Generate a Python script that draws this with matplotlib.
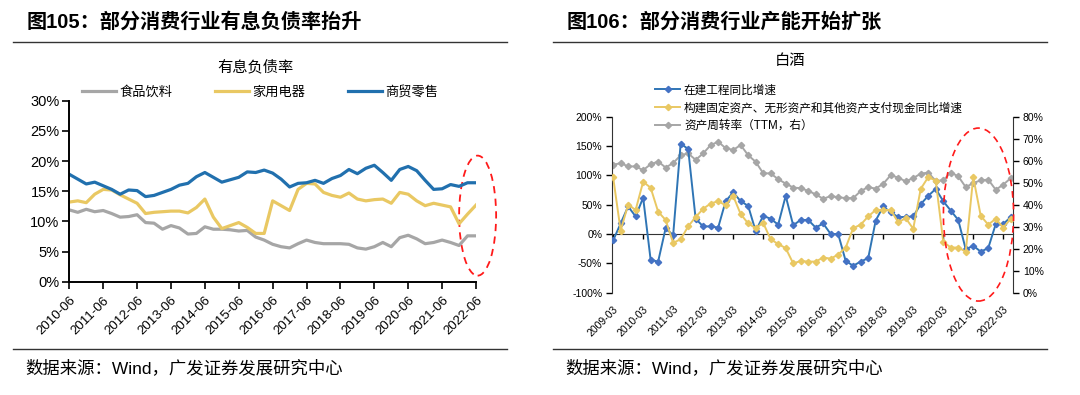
import numpy as np
import matplotlib
matplotlib.use("Agg")
import matplotlib.pyplot as plt
from matplotlib.lines import Line2D
from matplotlib.patches import Ellipse
from matplotlib.ticker import FuncFormatter, MultipleLocator

plt.rcParams['font.family'] = ['Liberation Sans', 'Noto Sans CJK SC']
plt.rcParams['axes.unicode_minus'] = False

# ---- left chart: 有息负债率 (quarterly, 2010-06 .. 2022-06) ----
debt_ticks = ['2010-06', '2011-06', '2012-06', '2013-06', '2014-06', '2015-06', '2016-06',
              '2017-06', '2018-06', '2019-06', '2020-06', '2021-06', '2022-06']
food = [11.9, 11.5, 12.0, 11.6, 11.8, 11.3, 10.7, 10.8, 11.1, 9.8, 9.7, 8.7, 9.3, 8.9, 7.9, 8.0,
        9.1, 8.7, 8.7, 8.6, 8.4, 8.5, 7.4, 6.9, 6.2, 5.8, 5.6, 6.3, 6.9, 6.5, 6.3, 6.3,
        6.3, 6.2, 5.6, 5.4, 5.8, 6.5, 5.8, 7.3, 7.7, 7.1, 6.3, 6.5, 6.9, 6.5, 6.0, 7.6, 7.6]
appliance = [13.2, 13.4, 13.1, 14.5, 15.3, 15.2, 14.4, 13.7, 13.0, 11.3, 11.5, 11.6, 11.7, 11.7, 11.4, 12.3,
             13.7, 10.7, 8.8, 9.3, 9.8, 9.0, 8.0, 8.0, 13.4, 12.6, 11.8, 15.3, 16.3, 16.2, 14.8, 14.3,
             14.0, 14.7, 13.7, 13.4, 13.6, 13.7, 13.0, 14.8, 14.5, 13.4, 12.6, 13.0, 12.7, 12.4, 9.6, 11.2, 12.7]
retail = [17.8, 17.0, 16.2, 16.5, 15.9, 15.3, 14.5, 15.2, 15.1, 14.1, 14.3, 14.8, 15.3, 16.0, 16.3, 17.4,
          18.1, 17.3, 16.5, 16.9, 17.3, 18.2, 18.1, 18.5, 18.0, 17.0, 15.7, 16.3, 16.4, 16.8, 16.3, 17.1,
          17.6, 18.6, 17.9, 18.8, 19.3, 18.1, 16.8, 18.6, 19.1, 18.4, 16.8, 15.3, 15.4, 16.1, 15.8, 16.4, 16.4]

# ---- right chart: 白酒 (quarterly, 2009-03 .. 2022-06) ----
liquor_ticks = ['2009-03', '2010-03', '2011-03', '2012-03', '2013-03', '2014-03', '2015-03',
                '2016-03', '2017-03', '2018-03', '2019-03', '2020-03', '2021-03', '2022-03']
cip_growth = [-11, 18, 47, 30, 62, -44, -47, 10, -2, 154, 145, 26, 13, 13, 11, 56, 71, 56, 48, 5,
              31, 26, 16, 65, 15, 24, 24, 11, 18, 0, 0, -46, -54, -47, -41, 23, 47, 37, 29, 29,
              30, 51, 65, 77, 56, 40, 24, -26, -20, -30, -24, 17, 17, 29]
capex_growth = [97, 6, 50, 41, 89, 79, 38, 24, -15, -9, 13, 29, 43, 52, 56, 49, 65, 34, 18, 10,
                19, -9, -17, -24, -50, -46, -47, -47, -40, -42, -35, -23, 10, 16, 30, 41, 41, 41, 20, 27,
                9, 77, 97, 91, -13, -23, -23, -30, 97, 31, 16, 26, 11, 26]
asset_turnover = [58.1, 58.9, 57.4, 57.4, 55.7, 58.4, 59.6, 56.9, 58.9, 62.5, 63.3, 60.4, 63.3, 67.1,
                  68.6, 65.7, 64.9, 67.1, 62.5, 59.5, 54.3, 54.2, 51.6, 49.6, 47.8, 47.5, 46.3, 44.7,
                  42.7, 43.9, 43.4, 43.0, 43.0, 46.2, 48.0, 47.3, 49.5, 53.4, 52.3, 50.6, 52.1, 54.1,
                  54.6, 50.8, 51.1, 54.6, 52.9, 48.0, 49.8, 51.1, 51.4, 46.8, 49.1, 52.1]

C_GRAY = '#A6A6A6'
C_YEL = '#E9C863'
C_BLUE = '#2170AE'
C_BLUE2 = '#2F75B5'
C_MBLUE = '#4472C4'

fig = plt.figure(figsize=(10.8, 3.95), dpi=100)

# headers / footers
for x0, x1, title in [(13, 507, '图105：部分消费行业有息负债率抬升'),
                      (553, 1047, '图106：部分消费行业产能开始扩张')]:
    fig.text((x0 + 14) / 1080, 1 - 22 / 395, title, fontsize=14.5, fontweight='bold',
             va='center', ha='left')
    fig.add_artist(Line2D([x0 / 1080, x1 / 1080], [1 - 42 / 395] * 2, color='#333333', lw=1.0))
    fig.add_artist(Line2D([x0 / 1080, x1 / 1080], [1 - 349 / 395] * 2, color='#333333', lw=1.0))
    fig.text((x0 + 12) / 1080, 1 - 368 / 395, '数据来源：Wind，广发证券发展研究中心',
             fontsize=12.5, va='center', ha='left')

# chart titles
fig.text(255 / 1080, 1 - 67 / 395, '有息负债率', fontsize=11, ha='center', va='center')
fig.text(790 / 1080, 1 - 61 / 395, '白酒', fontsize=11, ha='center', va='center')

# ---------------- left chart ----------------
ax = fig.add_axes([69.3 / 1080, 1 - 281.7 / 395, 406.7 / 1080, 181 / 395])
x = np.arange(len(food))
ax.plot(x, food, color=C_GRAY, lw=2.3, solid_joinstyle='round', label='食品饮料')
ax.plot(x, appliance, color=C_YEL, lw=2.3, solid_joinstyle='round', label='家用电器')
ax.plot(x, retail, color=C_BLUE, lw=2.3, solid_joinstyle='round', label='商贸零售')
ax.set_xlim(0, 48)
ax.set_ylim(0, 30)
ax.yaxis.set_major_locator(MultipleLocator(5))
ax.yaxis.set_major_formatter(FuncFormatter(lambda v, p: f'{v:.0f}%'))
ax.set_xticks(np.arange(0, 49, 4))
ax.set_xticklabels(debt_ticks, rotation=45, ha='right', rotation_mode='anchor', fontsize=9.5)
ax.tick_params(axis='y', labelsize=10.5, length=5, width=1.2, direction='out', pad=2)
ax.tick_params(axis='x', length=5, width=1.2, direction='out', pad=4)
for s in ['top', 'right']:
    ax.spines[s].set_visible(False)
for s in ['left', 'bottom']:
    ax.spines[s].set_linewidth(1.4)
ax.legend(loc='center', bbox_to_anchor=(0.469, 1.048), ncol=3, frameon=False,
          fontsize=9.5, handlelength=2.6, handletextpad=0.25, columnspacing=3.2, borderaxespad=0)
ax.add_patch(Ellipse((1.004, 0.365), 0.091, 0.663, transform=ax.transAxes, fill=False,
                     edgecolor='#FF1A1A', ls=(0, (4, 3)), lw=1.3, clip_on=False))

# ---------------- right chart ----------------
ax2 = fig.add_axes([612 / 1080, 1 - 292.7 / 395, 401 / 1080, 176 / 395])
xr = np.arange(len(cip_growth))
ax2.plot(xr, cip_growth, color=C_BLUE2, lw=1.4, marker='D', ms=3.2, mfc=C_MBLUE, mec=C_MBLUE,
         label='在建工程同比增速', zorder=3)
ax2.plot(xr, capex_growth, color=C_YEL, lw=1.4, marker='D', ms=3.2,
         label='构建固定资产、无形资产和其他资产支付现金同比增速', zorder=3)
ax3 = ax2.twinx()
ax3.plot(xr, asset_turnover, color=C_GRAY, lw=1.4, marker='D', ms=3.2,
         label='资产周转率（TTM，右）', zorder=2)
ax2.set_zorder(ax3.get_zorder() + 1)
ax2.patch.set_visible(False)

ax2.set_xlim(-0.15, 53.3)
ax2.set_ylim(-100, 200)
ax3.set_ylim(0, 80)
ax2.yaxis.set_major_locator(MultipleLocator(50))
ax2.yaxis.set_major_formatter(FuncFormatter(lambda v, p: f'{v:.0f}%'))
ax3.yaxis.set_major_locator(MultipleLocator(10))
ax3.yaxis.set_major_formatter(FuncFormatter(lambda v, p: f'{v:.0f}%'))
ax2.spines['bottom'].set_position(('data', 0))
ax2.set_xticks(np.arange(0, 53, 4))
ax2.set_xticklabels(liquor_ticks, rotation=45, ha='right', rotation_mode='anchor', fontsize=7.5)
ax2.tick_params(axis='x', length=3.5, width=1, direction='out', pad=47)
ax2.tick_params(axis='y', labelsize=7.5, length=4, width=1, pad=3)
ax3.tick_params(axis='y', labelsize=7.5, length=4, width=1, pad=3)
for a in (ax2, ax3):
    a.spines['top'].set_visible(False)
ax2.spines['right'].set_visible(False)
ax3.spines['left'].set_visible(False)
ax3.spines['bottom'].set_visible(False)
for s in ['left', 'bottom']:
    ax2.spines[s].set_color('#333333')
ax3.spines['right'].set_color('#333333')

handles = ax2.get_lines() + ax3.get_lines()
ax2.legend(handles, [h.get_label() for h in handles], loc='upper left',
           bbox_to_anchor=(0.095, 1.21), frameon=False, fontsize=8.4, handlelength=2.2,
           handletextpad=0.3, labelspacing=0.5, borderaxespad=0)
ax2.add_patch(Ellipse((0.914, 0.444), 0.175, 0.983, transform=ax2.transAxes, fill=False,
                      edgecolor='#FF1A1A', ls=(0, (4, 3)), lw=1.2, clip_on=False, zorder=5))

fig.savefig('out.png', dpi=100)
